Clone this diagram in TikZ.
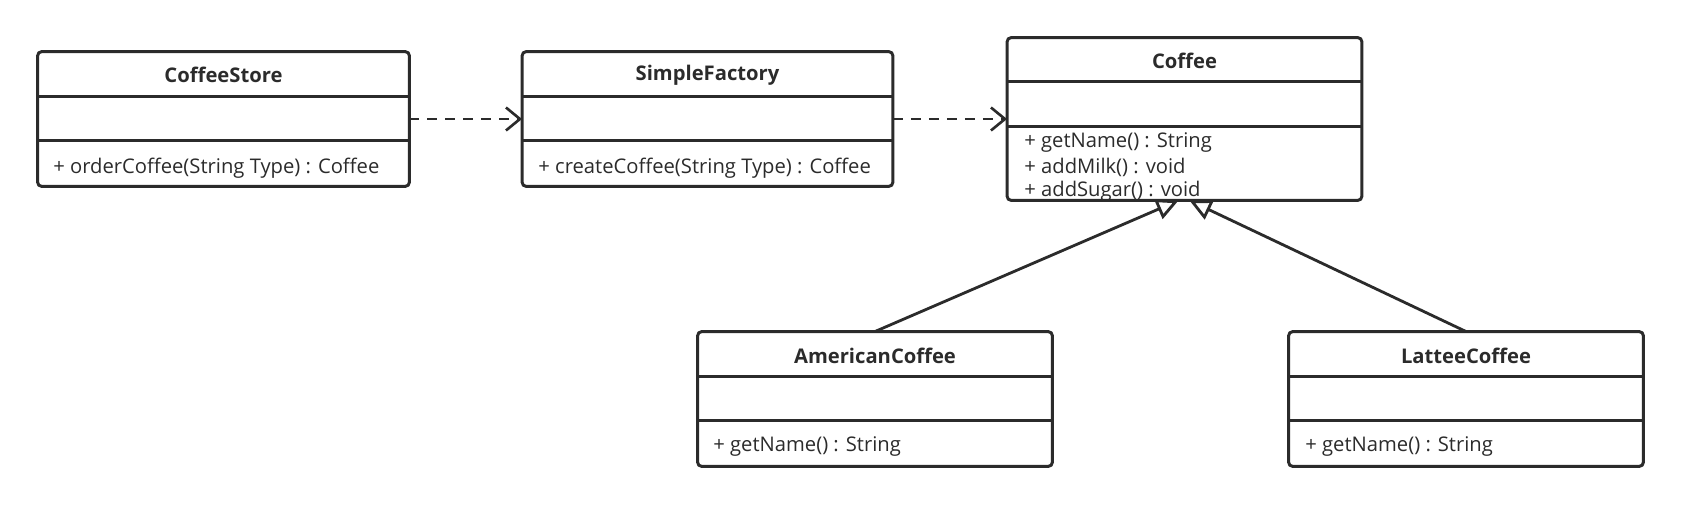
\documentclass[tikz,border=0pt]{standalone}
\usepackage{fontspec}
\setmainfont{Open Sans}
\usepackage{tikz}
\usetikzlibrary{calc}
\usetikzlibrary{arrows.meta}
\usepackage{xcolor}
\definecolor{ink}{HTML}{2B2B2B}

\begin{document}
\begin{tikzpicture}[x=0.02cm,y=-0.02cm]
		\tikzstyle{classbox}=[draw=ink, line width=1.7pt, rounded corners=2.5pt, rectangle, inner sep=0pt, outer sep=0pt, minimum width=7.1cm, minimum height=2.7cm]
		\tikzstyle{divide}=[draw=ink, line width=1.7pt]
		\tikzstyle{title}=[text=ink, font=\fontsize{11.5}{13}\selectfont\bfseries]
		\tikzstyle{member}=[text=ink, anchor=west, inner sep=0pt, font=\fontsize{11.5}{13}\selectfont]
		\tikzstyle{dep}=[draw=ink, line width=1.5pt, dash pattern=on 0.2cm off 0.16cm, -{Straight Barb[length=0.28cm,width=0.46cm]}]
		\tikzstyle{inherit}=[draw=ink, line width=1.6pt, -{Triangle[open,length=0.44cm,width=0.42cm]}]
		\useasboundingbox (0,0) rectangle (1681,504);

		% boxes
		\node[classbox, minimum width=7.44cm] (cs) at (223.5,119) {};
		\node[classbox, minimum width=7.42cm] (sf) at (707.5,119) {};
		\node[classbox, minimum height=3.26cm] (cof) at (1184.5,119) {};
		\node[classbox] (am) at (875,399) {};
		\node[classbox] (la) at (1466,399) {};

		\draw[divide] ([yshift=-0.9cm]cs.north west) -- ([yshift=-0.9cm]cs.north east);
		\draw[divide] ([yshift=-1.78cm]cs.north west) -- ([yshift=-1.78cm]cs.north east);
		\draw[divide] ([yshift=-0.9cm]sf.north west) -- ([yshift=-0.9cm]sf.north east);
		\draw[divide] ([yshift=-1.78cm]sf.north west) -- ([yshift=-1.78cm]sf.north east);
		\draw[divide] ([yshift=-0.88cm]cof.north west) -- ([yshift=-0.88cm]cof.north east);
		\draw[divide] ([yshift=-1.78cm]cof.north west) -- ([yshift=-1.78cm]cof.north east);
		\draw[divide] ([yshift=-0.9cm]am.north west) -- ([yshift=-0.9cm]am.north east);
		\draw[divide] ([yshift=-1.78cm]am.north west) -- ([yshift=-1.78cm]am.north east);
		\draw[divide] ([yshift=-0.9cm]la.north west) -- ([yshift=-0.9cm]la.north east);
		\draw[divide] ([yshift=-1.78cm]la.north west) -- ([yshift=-1.78cm]la.north east);

		% texts
		\node[title] (csT) at (223.5,75) {CoffeeStore};
		\node[member] (csM) at (53,168) {+ orderCoffee(String Type) : Coffee};
		\node[title] (sfT) at (707.5,75) {SimpleFactory};
		\node[member] (sfM) at (538,168) {+ createCoffee(String Type) : Coffee};
		\node[title] (cofT) at (1184.5,61) {Coffee};
		\node[member] (cofM1) at (1024,143) {+ getName() : String};
		\node[member] (cofM2) at (1024,167) {+ addMilk() : void};
		\node[member] (cofM3) at (1024,191) {+ addSugar() : void};
		\node[title] (amT) at (875,356) {AmericanCoffee};
		\node[member] (amM) at (713,447) {+ getName() : String};
		\node[title] (laT) at (1466,356) {LatteeCoffee};
		\node[member] (laM) at (1305,447) {+ getName() : String};

		% relations
		\draw[dep] (cs.east) -- (sf.west);
		\draw[dep] (sf.east) -- (cof.west);
		\draw[inherit] (am.north) -- ([xshift=-0.12cm]cof.south);
		\draw[inherit] (la.north) -- ([xshift=0.1cm]cof.south);
	\end{tikzpicture}
\end{document}
